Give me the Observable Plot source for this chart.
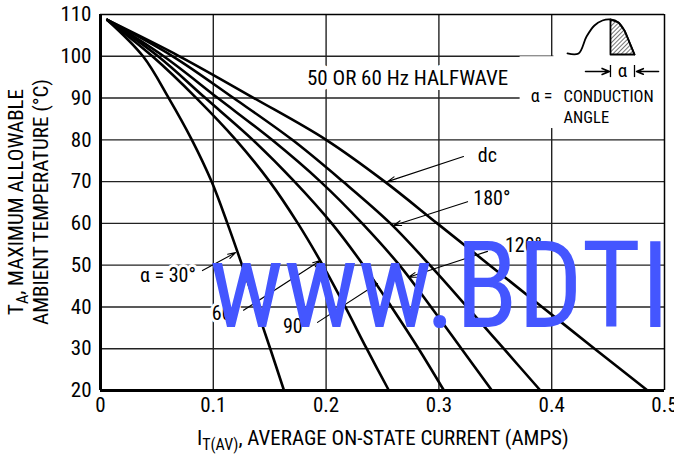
<!DOCTYPE html>
<html><head><meta charset="utf-8">
<script src="https://cdn.jsdelivr.net/npm/d3@7"></script>
<script src="https://cdn.jsdelivr.net/npm/@observablehq/plot@0.6"></script>
<style>
body{margin:0;background:#fff;}
svg{display:block}
</style></head><body><div id="chart"></div>
<script>
const FONT = "'Liberation Sans Narrow','Arial Narrow','Roboto Condensed','DejaVu Sans Condensed',sans-serif";

// Ambient temperature levels (°C) at which each curve's current is read
const temps = [108.7, 100, 90, 80, 70, 60, 50, 40, 30, 20];
// Average on-state current (A) for each conduction angle
const cur30  = [0.006, 0.0377, 0.0605, 0.081, 0.0985, 0.1125, 0.1255, 0.138, 0.1505, 0.1627];
const cur60  = [0.006, 0.046, 0.085, 0.120, 0.150, 0.175, 0.197, 0.217, 0.236, 0.2557];
const cur90  = [0.006, 0.051, 0.093, 0.135, 0.172, 0.205, 0.233, 0.258, 0.282, 0.3045];
const cur120 = [0.006, 0.056, 0.104, 0.152, 0.195, 0.232, 0.265, 0.293, 0.320, 0.347];
const cur180 = [0.006, 0.064, 0.118, 0.170, 0.215, 0.257, 0.292, 0.325, 0.3575, 0.390];
const curDC  = [0.006, 0.070, 0.136, 0.200, 0.252, 0.2985, 0.345, 0.3915, 0.438, 0.485];
const seriesNames = ["30°", "60°", "90°", "120°", "180°", "dc"];
const seriesCurrents = [cur30, cur60, cur90, cur120, cur180, curDC];

const xTicks = [0, 0.1, 0.2, 0.3, 0.4, 0.5];
const yTicks = [20, 30, 40, 50, 60, 70, 80, 90, 100, 110];

// Curve labels and their arrows (data coordinates)
const curveLabels = [
  {text: "dc",      x: 0.343, y: 76.3, ax: 0.3218, ay: 76.0, bx: 0.2544, by: 70.0},
  {text: "180°",    x: 0.347, y: 66.0, ax: 0.3254, ay: 65.2, bx: 0.2598, by: 59.5},
  {text: "120°",    x: 0.375, y: 54.7, ax: 0.3431, ay: 53.3, bx: 0.2730, by: 47.1},
  {text: "α = 30°", x: 0.0598, y: 47.5, ax: 0.0904, ay: 48.7, bx: 0.1197, by: 53.0},
  {text: "60°",     x: 0.1108, y: 38.4, ax: 0.1268, ay: 39.2, bx: 0.1950, by: 51.1},
  {text: "90°",     x: 0.1738, y: 35.3, ax: 0.1924, ay: 36.3, bx: 0.2456, by: 45.6}
];

// Inset sketch of a half-wave pulse (data coordinates)
const pulseX = [0.414, 0.4238, 0.4309, 0.4379, 0.445, 0.4521, 0.4592, 0.4645, 0.469, 0.4734];
const pulseY = [100.67, 100.67, 104.73, 107.37, 108.56, 108.8, 108.09, 106.17, 103.3, 100.43];

const rows = seriesNames.flatMap((name, i) =>
  temps.map((t, j) => ({series: name, current: seriesCurrents[i][j], temp: t})));
const pulse = pulseX.map((x, i) => ({x, y: pulseY[i]}));
const hatch = pulse.slice(5);
const hatchOutline = [{x: pulseX[5], y: 100.43}, ...hatch, {x: pulseX[5], y: 100.43}];

const gridStyle = {stroke: "#222", strokeOpacity: 1, strokeWidth: 1.4};
const halo = {stroke: "white", strokeWidth: 6, fill: "black"};

const chart = Plot.plot({
  width: 674, height: 454,
  marginLeft: 100, marginRight: 10, marginTop: 14, marginBottom: 64,
  style: {fontFamily: FONT, fontSize: "21px", color: "#000", background: "#fff", overflow: "visible"},
  x: {domain: [0, 0.5]},
  y: {domain: [20, 110]},
  marks: [
    Plot.gridX(xTicks.slice(1, -1), gridStyle),
    Plot.gridY(yTicks.slice(1, -1), gridStyle),
    // blank panels behind the inset / legend text
    Plot.rect([{x1: 0.402, x2: 0.5, y1: 99.6, y2: 110}], {x1: "x1", x2: "x2", y1: "y1", y2: "y2", fill: "white"}),
    Plot.rect([{x1: 0.372, x2: 0.5, y1: 82.7, y2: 99.9}], {x1: "x1", x2: "x2", y1: "y1", y2: "y2", fill: "white"}),
    // frame
    Plot.ruleX([0.5], {stroke: "#000", strokeWidth: 1.5}),
    Plot.ruleY([110], {stroke: "#000", strokeWidth: 1.5}),
    Plot.ruleX([0], {stroke: "#000", strokeWidth: 3}),
    Plot.ruleY([20], {stroke: "#000", strokeWidth: 3}),
    Plot.axisX({ticks: xTicks, tickSize: 0, tickPadding: 7, label: null, fontSize: 21,
      tickFormat: d => d === 0 ? "0" : d.toFixed(1)}),
    Plot.axisY({ticks: yTicks, tickSize: 0, tickPadding: 9, label: null, fontSize: 21}),
    // curves
    Plot.line(rows, {x: "current", y: "temp", z: "series", stroke: "#000", strokeWidth: 2.6, curve: "catmull-rom"}),
    // labels
    Plot.text(["50 OR 60 Hz HALFWAVE"], {x: 0.2722, y: 94.7, text: d => d, fontSize: 21, stroke: "white", strokeWidth: 10, fill: "black"}),
    Plot.arrow(curveLabels, {x1: "ax", y1: "ay", x2: "bx", y2: "by", stroke: "#000", strokeWidth: 1.1, headLength: 11, headAngle: 35}),
    Plot.text(curveLabels, {x: "x", y: "y", text: "text", fontSize: 20, ...halo}),
    // legend text
    Plot.text(["α ="], {x: 0.391, y: 90.4, text: d => d, fontSize: 18}),
    Plot.text(["CONDUCTION", "ANGLE"], {x: 0.4105, y: (d, i) => i === 0 ? 90.4 : 85.3, text: d => d, fontSize: 16.5, textAnchor: "start"}),
    // inset pulse
    Plot.areaY(hatch, {x: "x", y1: 100.43, y2: "y", fill: "url(#hatch)"}),
    Plot.line(hatchOutline, {x: "x", y: "y", stroke: "#000", strokeWidth: 1.8}),
    Plot.line(pulse, {x: "x", y: "y", stroke: "#000", strokeWidth: 1.8, curve: "catmull-rom"}),
    Plot.arrow([{x1: 0.430, x2: 0.4512}, {x1: 0.4947, x2: 0.4752}], {x1: "x1", x2: "x2", y1: 96.36, y2: 96.36, stroke: "#000", strokeWidth: 1.6, headLength: 8, headAngle: 45}),
    Plot.ruleX([0.4521, 0.4734], {y1: 94.9, y2: 97.8, stroke: "#000", strokeWidth: 1.3}),
    Plot.text(["α"], {x: 0.4628, y: 96.6, text: d => d, fontSize: 19}),
    // watermark
    Plot.text(["www.BDTI"], {x: 0.0966, y: 35.08, text: d => d, fontSize: 121, textAnchor: "start", lineAnchor: "bottom", fill: "#4456ff"})
  ]
});

const svg = d3.select(chart);
const defs = svg.insert("defs", ":first-child");
const pat = defs.append("pattern").attr("id", "hatch").attr("patternUnits", "userSpaceOnUse")
  .attr("width", 3).attr("height", 3).attr("patternTransform", "rotate(45)");
pat.append("rect").attr("width", 3).attr("height", 3).attr("fill", "white");
pat.append("line").attr("x1", 0).attr("y1", 0).attr("x2", 0).attr("y2", 3).attr("stroke", "#000").attr("stroke-width", 1.1);

// compress the watermark to its width in the reference
svg.selectAll("text").filter(function() { return this.textContent === "www.BDTI"; })
  .attr("textLength", 460).attr("lengthAdjust", "spacingAndGlyphs");

// axis titles with subscripts
const xt = svg.append("text").attr("x", 197).attr("y", 445).attr("font-size", 21).attr("text-anchor", "start").attr("fill", "#000");
xt.append("tspan").text("I");
xt.append("tspan").attr("font-size", 16).attr("dy", 5).text("T(AV)");
xt.append("tspan").attr("dy", -5).text(", AVERAGE ON-STATE CURRENT (AMPS)");

const yt1 = svg.append("text").attr("transform", "translate(23,202) rotate(-90)").attr("text-anchor", "middle").attr("font-size", 21).attr("fill", "#000");
yt1.append("tspan").text("T");
yt1.append("tspan").attr("font-size", 16).attr("dy", 5).text("A");
yt1.append("tspan").attr("dy", -5).text(", MAXIMUM ALLOWABLE");
svg.append("text").attr("transform", "translate(48,202) rotate(-90)").attr("text-anchor", "middle").attr("font-size", 21).attr("fill", "#000")
  .text("AMBIENT TEMPERATURE (°C)");

document.getElementById("chart").appendChild(chart);
</script>
</body></html>
